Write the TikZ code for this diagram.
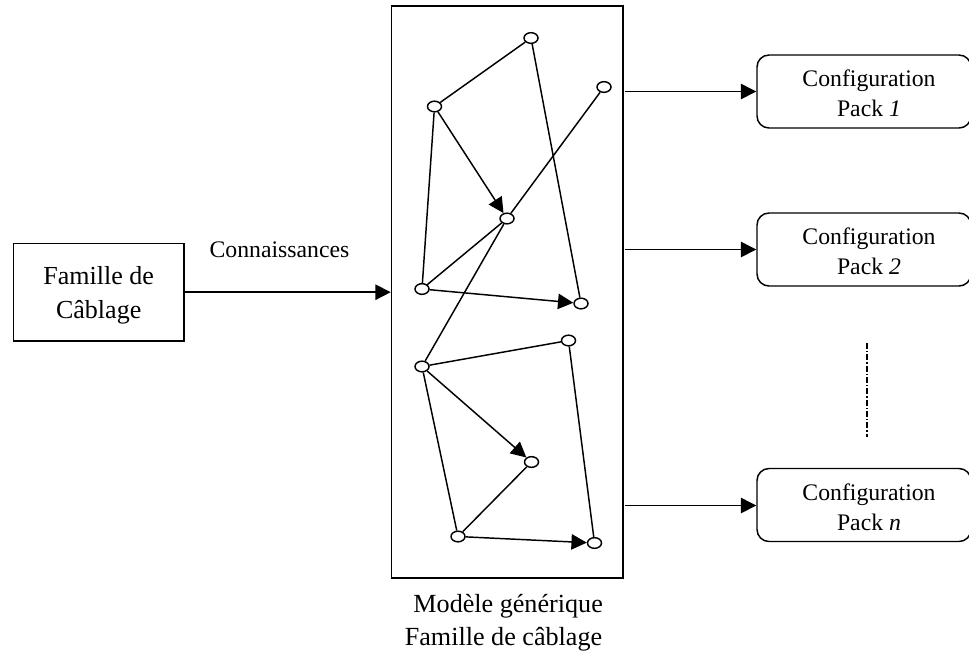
\documentclass[tikz,border=0pt]{standalone}
\usepackage{fontspec}
\setmainfont{Liberation Serif}
\usetikzlibrary{arrows.meta,shapes.geometric}
\tikzset{
  x=0.75pt,y=-0.75pt,
  vtx/.style={draw,line width=1.1pt,fill=white,ellipse,minimum width=10.5pt,minimum height=8pt,inner sep=0pt},
  edge/.style={draw,line width=1.1pt},
  arr/.style={draw,line width=1.1pt,-{Triangle[length=11.5pt,width=11.5pt]}},
  cfg/.style={draw,line width=1.1pt,rounded corners=9pt,minimum width=160.5pt,minimum height=54.75pt,inner sep=0pt},
  lbl/.style={align=center,font=\fontsize{17.8}{22.5}\selectfont,inner sep=0pt},
}
\begin{document}
\begin{tikzpicture}
\useasboundingbox (0,0) rectangle (969,651);
\node[draw,line width=1.1pt,minimum width=173.6pt,minimum height=429pt,inner sep=0pt] (big) at (507.2,292) {};
\node[draw,line width=1.4pt,minimum width=127.9pt,minimum height=73pt,inner sep=0pt] (fam) at (98.7,292.2) {};
\node[lbl,font=\fontsize{19.5}{25.5}\selectfont] (famt) at (98.7,295) {Famille de\\Câblage};
\node[cfg] (c1) at (864,91.5) {};
\node[cfg] (c2) at (864,249.5) {};
\node[cfg] (c3) at (864,505) {};
\node[lbl] (t1) at (869,93.5) {Configuration\\Pack \textit{1}};
\node[lbl] (t2) at (869,251.5) {Configuration\\Pack \textit{2}};
\node[lbl] (t3) at (869,507) {Configuration\\Pack \textit{n}};
\node[lbl] (conn) at (279.5,250) {Connaissances};
\node[lbl,font=\fontsize{19.6}{25}\selectfont] (cap) at (503.5,623) {\hspace*{7pt}Modèle générique\\Famille de câblage};
\coordinate (d1) at (867,343);
\coordinate (d2) at (867,437);
\coordinate (s1) at (625,91.5);
\coordinate (s2) at (625,249.5);
\coordinate (s3) at (625,505.5);
\node[vtx] (n1) at (531,38) {};
\node[vtx] (n2) at (604,87) {};
\node[vtx] (n3) at (434.5,106.5) {};
\node[vtx] (n4) at (507,218.5) {};
\node[vtx] (n5) at (422,289) {};
\node[vtx] (n6) at (581,303.5) {};
\node[vtx] (n7) at (422,366.5) {};
\node[vtx] (n8) at (568.5,340.5) {};
\node[vtx] (n9) at (531.5,462) {};
\node[vtx] (n10) at (458,536.5) {};
\node[vtx] (n11) at (594.5,543) {};
\draw[edge] (n3)--(n1);
\draw[edge] (n1)--(n6);
\draw[arr] (n3)--(n4);
\draw[edge] (n2)--(n4);
\draw[edge] (n3)--(n5);
\draw[edge] (n5)--(n4);
\draw[arr] (n5)--(n6);
\draw[edge] (n4)--(n7);
\draw[edge] (n7)--(n8);
\draw[edge] (n8)--(n11);
\draw[arr] (n7)--(n9);
\draw[edge] (n7)--(n10);
\draw[edge] (n10)--(n9);
\draw[arr] (n10)--(n11);
\draw[arr] (fam)--(big.west|-fam);
\draw[arr] (s1)--(c1.west|-s1);
\draw[arr] (s2)--(c2.west|-s2);
\draw[arr] (s3)--(c3.west|-s3);
\draw[line width=0.8pt,dash pattern=on 4.5pt off 1.5pt on 1pt off 1.5pt] (d1)--(d2);
\end{tikzpicture}
\end{document}
